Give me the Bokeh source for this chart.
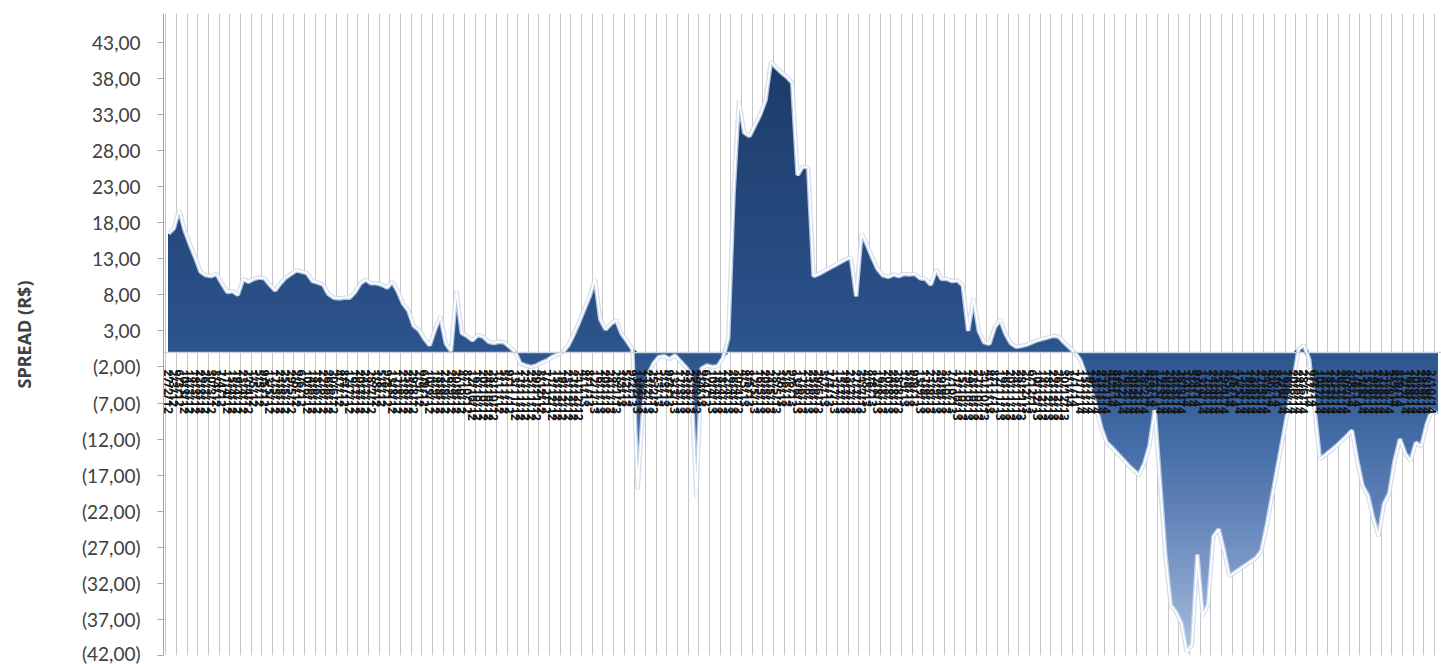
import numpy as np
from bokeh.plotting import figure
from bokeh.models import FixedTicker, Range1d, Title, LinearAxis
from bokeh.embed import file_html
from bokeh.resources import INLINE

# ---- data ----
SPREAD = [
    16.5, 17.2, 19.8, 17.0, 15.0, 13.2, 11.2, 10.7, 10.6, 10.9,
    9.6, 8.4, 8.5, 8.0, 10.2, 9.8, 10.2, 10.4, 10.3, 9.4,
    8.6, 9.6, 10.4, 10.9, 11.4, 11.2, 11.0, 9.9, 9.7, 9.4,
    8.1, 7.6, 7.5, 7.6, 7.6, 8.4, 9.6, 10.1, 9.6, 9.6,
    9.4, 9.0, 9.8, 8.5, 6.8, 5.8, 3.7, 3.1, 1.9, 1.0,
    3.2, 5.0, 1.3, 0.2, 8.6, 2.7, 2.3, 1.7, 2.4, 2.2,
    1.5, 1.3, 1.5, 1.4, 0.8, 0.1, -1.5, -1.8, -2.0, -1.8,
    -1.4, -1.1, -0.6, -0.3, 0.1, 1.0, 2.5, 4.2, 6.0, 7.8,
    10.2, 4.6, 3.2, 4.0, 4.5, 2.6, 1.6, 0.5, -19.0, -8.0,
    -3.0, -1.5, -0.6, -0.5, -0.9, -0.4, -1.2, -2.0, -3.0, -20.0,
    -2.2, -1.8, -2.0, -1.9, -0.8, 2.0, 22.0, 35.0, 30.5, 30.0,
    31.5, 33.0, 35.0, 40.3, 39.5, 38.8, 38.2, 37.4, 24.6, 25.8,
    25.6, 10.6, 10.9, 11.3, 11.7, 12.1, 12.5, 12.9, 13.2, 7.8,
    16.5, 15.0, 13.2, 11.6, 10.7, 10.5, 10.8, 10.6, 10.9, 10.8,
    10.9, 10.3, 10.2, 9.4, 11.5, 10.2, 10.2, 9.9, 10.0, 9.3,
    3.0, 7.5, 3.0, 1.4, 1.2, 3.5, 4.6, 2.6, 1.3, 0.8,
    0.9, 1.1, 1.4, 1.7, 1.9, 2.1, 2.3, 2.2, 1.4, 0.7,
    0.0, -1.0, -3.0, -5.0, -7.5, -10.5, -12.5, -13.2, -14.0, -14.8,
    -15.6, -16.3, -17.0, -15.5, -13.0, -8.0, -18.0, -28.0, -35.0, -36.0,
    -37.5, -41.5, -40.5, -28.0, -36.5, -35.0, -25.5, -24.5, -27.5, -31.0,
    -30.5, -30.0, -29.5, -29.0, -28.5, -27.5, -24.0, -20.0, -16.0, -12.0,
    -8.0, -4.0, 0.5, 1.0, -1.0, -8.0, -14.8, -14.2, -13.6, -13.0,
    -12.3, -11.6, -10.8, -15.0, -18.5, -19.8, -23.0, -25.5, -21.0, -19.5,
    -15.0, -12.0, -14.0, -15.0, -12.5, -13.0, -10.0, -8.0, -8.5,
]

DATES_2012 = ("27/2 2/3 6/3 10/3 14/3 18/3 22/3 26/3 30/3 3/4 7/4 11/4 15/4 19/4 23/4 27/4 "
              "1/5 5/5 9/5 13/5 17/5 21/5 25/5 29/5 2/6 6/6 10/6 14/6 18/6 22/6 26/6 30/6 "
              "4/7 8/7 12/7 16/7 20/7 24/7 28/7 1/8 5/8 9/8 13/8 17/8 21/8 25/8 29/8 "
              "2/9 6/9 10/9 14/9 18/9 22/9 26/9 30/9 4/10 8/10 12/10 16/10 20/10 24/10 28/10 "
              "1/11 5/11 9/11 13/11 17/11 21/11 25/11 29/11 3/12 7/12 11/12 15/12 19/12 23/12 27/12 31/12").split()
DATES_2013 = ("4/1 8/1 12/1 16/1 20/1 24/1 28/1 1/2 5/2 9/2 13/2 17/2 21/2 25/2 "
              "1/3 5/3 9/3 13/3 17/3 21/3 25/3 29/3 2/4 6/4 10/4 14/4 18/4 22/4 26/4 30/4 "
              "4/5 8/5 12/5 16/5 20/5 24/5 28/5 1/6 5/6 9/6 13/6 17/6 21/6 25/6 29/6 "
              "3/7 7/7 11/7 15/7 19/7 23/7 27/7 31/7 4/8 8/8 12/8 16/8 20/8 24/8 28/8 "
              "1/9 5/9 9/9 13/9 17/9 21/9 25/9 29/9 3/10 7/10 11/10 15/10 19/10 23/10 27/10 31/10 "
              "4/11 8/11 12/11 16/11 20/11 24/11 28/11 2/12 6/12 10/12 14/12 18/12 22/12 26/12 30/12").split()
DATES_2014 = ("3/1 7/1 11/1 15/1 19/1 23/1 27/1 31/1 4/2 8/2 12/2 16/2 20/2 24/2 28/2 "
              "4/3 8/3 12/3 16/3 20/3 24/3 28/3 1/4 5/4 9/4 13/4 17/4 21/4 25/4 29/4 "
              "3/5 7/5 11/5 15/5 19/5 23/5 27/5 31/5 4/6 8/6 12/6 16/6 20/6 24/6 28/6 "
              "2/7 6/7 10/7 14/7 18/7 22/7 26/7 30/7 3/8 7/8 11/8 15/8 19/8 23/8 27/8 31/8 "
              "4/9 8/9 12/9 16/9 20/9 24/9 28/9 2/10 6/10").split()
DATE_LABELS = ([d + "/12" for d in DATES_2012] + [d + "/13" for d in DATES_2013]
               + [d + "/14" for d in DATES_2014])

Y_TICKS = [-42, -37, -32, -27, -22, -17, -12, -7, -2, 3, 8, 13, 18, 23, 28, 33, 38, 43]
Y_TICK_LABELS = ["(42,00)", "(37,00)", "(32,00)", "(27,00)", "(22,00)", "(17,00)", "(12,00)",
                 "(7,00)", "(2,00)", "3,00", "8,00", "13,00", "18,00", "23,00", "28,00",
                 "33,00", "38,00", "43,00"]
Y_TITLE = "SPREAD (R$)"

# ---- figure ----
vals = np.array(SPREAD, dtype=float)
idx = np.arange(len(vals))

p = figure(width=1441, height=664, output_backend="svg", toolbar_location=None,
           x_range=Range1d(-0.94, 238.8), y_range=Range1d(-42, 47),
           min_border_left=163, min_border_right=0, min_border_top=13, min_border_bottom=9)
p.outline_line_color = None
p.background_fill_color = "white"
p.border_fill_color = "white"

# gradient colour by value
stop_v = [-42, -30, -20, -10, 0, 45]
stop_r = [172, 124, 90, 63, 44, 27]
stop_g = [192, 153, 125, 104, 84, 56]
stop_b = [224, 199, 180, 163, 141, 102]


def col(v):
    r = int(round(np.interp(v, stop_v, stop_r)))
    g = int(round(np.interp(v, stop_v, stop_g)))
    b = int(round(np.interp(v, stop_v, stop_b)))
    return "#%02x%02x%02x" % (r, g, b)


top_max = int(np.ceil(vals.max()))
for top in range(top_max, 0, -1):
    p.varea(x=idx, y1=np.zeros_like(vals), y2=np.clip(vals, 0, top), fill_color=col(top - 0.5))
bot_min = int(np.floor(vals.min()))
for bot in range(bot_min, 0):
    p.varea(x=idx, y1=np.clip(vals, bot, 0), y2=np.zeros_like(vals), fill_color=col(bot + 0.5))

# light edge of the area
p.line(idx, vals, line_color="#cfdbeb", line_width=4.5, line_alpha=0.85)
p.line(idx, vals, line_color="white", line_width=1.8)

# vertical gridlines
p.xgrid.ticker = FixedTicker(ticks=[i - 0.5 for i in range(0, len(vals) + 2, 2)])
p.xgrid.grid_line_color = "#c6c6c6"
p.xgrid.grid_line_width = 1
p.ygrid.visible = False

# x axis crossing at zero
n_lab = 238
xa = p.xaxis[0]
xa.fixed_location = 0
xa.ticker = FixedTicker(ticks=list(range(n_lab)))
xa.major_label_overrides = {i: DATE_LABELS[i] for i in range(n_lab)}
xa.major_label_orientation = -np.pi / 2
xa.major_label_standoff = 11
xa.major_tick_line_color = None
xa.minor_tick_line_color = None
xa.axis_line_color = "#c9d2de"
xa.axis_line_width = 1.5
xa.major_label_text_font = "Open Sans"
xa.major_label_text_font_size = "12px"
xa.major_label_text_font_style = "bold"
xa.major_label_text_color = "#151515"

# y axis
ya = p.yaxis[0]
ya.ticker = FixedTicker(ticks=Y_TICKS)
ya.major_label_overrides = dict(zip(Y_TICKS, Y_TICK_LABELS))
ya.axis_line_color = "#a6a6a6"
ya.major_tick_line_color = "#a6a6a6"
ya.major_tick_out = 6
ya.major_tick_in = 0
ya.minor_tick_line_color = None
ya.major_label_standoff = 17
ya.major_label_text_font = "Lato"
ya.major_label_text_font_size = "19px"
ya.major_label_text_color = "#404040"

# invisible spacer axis between the tick labels and the vertical title
spacer = LinearAxis(ticker=FixedTicker(ticks=[0]), major_label_overrides={0: ""},
                    major_tick_out=38, major_tick_in=0, minor_tick_out=0, minor_tick_in=0,
                    major_label_standoff=0, major_label_text_font_size="1px",
                    axis_line_color=None, major_tick_line_color=None,
                    minor_tick_line_color=None)
p.add_layout(spacer, "left")

ytitle = Title(text=Y_TITLE, align="center", offset=57, standoff=10,
               text_font="Open Sans", text_font_style="bold",
               text_font_size="18px", text_color="#404040")
p.add_layout(ytitle, "left")

open("out.html", "w").write(file_html(p, INLINE))
